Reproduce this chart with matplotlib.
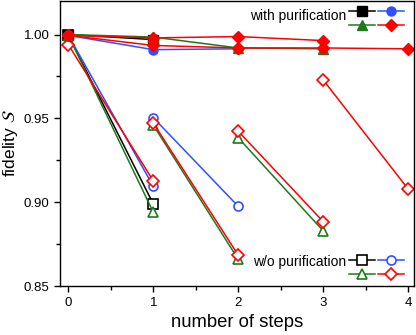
import matplotlib
matplotlib.use("Agg")
import matplotlib.pyplot as plt

plt.rcParams['font.family'] = ['Liberation Sans', 'DejaVu Sans']

# with purification (filled markers)
pur_black_x = [0, 1]
pur_black_y = [1.000, 0.997]
pur_blue_x = [0, 1, 2]
pur_blue_y = [0.9995, 0.991, 0.9915]
pur_green_x = [0, 1, 2, 3]
pur_green_y = [1.000, 0.9985, 0.992, 0.9915]
pur_red_a_x = [0, 1, 2, 3, 4]
pur_red_a_y = [0.9995, 0.9935, 0.992, 0.992, 0.9915]
pur_red_b_x = [0, 1, 2, 3]
pur_red_b_y = [0.9995, 0.998, 0.9988, 0.9964]

# w/o purification (open markers), one segment per starting step
raw_black = [([0, 1], [0.9995, 0.899])]
raw_blue = [([0, 1], [0.9995, 0.9095]), ([1, 2], [0.9504, 0.8976])]
raw_green = [([0, 1], [0.9995, 0.894]), ([1, 2], [0.946, 0.866]),
             ([2, 3], [0.9385, 0.883])]
raw_red = [([0, 1], [0.9939, 0.9127]), ([1, 2], [0.9472, 0.8685]),
           ([2, 3], [0.9424, 0.8885]), ([3, 4], [0.973, 0.908])]

BLACK = 'black'
BLUE = '#3050ff'
GREEN = '#1c7a1c'
RED = '#ff0000'

fig, ax = plt.subplots(figsize=(4.16, 3.35), dpi=100)
fig.subplots_adjust(left=0.144, right=0.995, top=0.998, bottom=0.146)

lw = 1.1
ms = 6.5

def open_series(segs, color, marker):
    h = None
    for xs, ys in segs:
        h, = ax.plot(xs, ys, color=color, lw=lw, marker=marker, ms=ms,
                     mfc='white', mec=color, mew=1.2)
    return h

hb_o = open_series(raw_black, BLACK, 's')
hbl_o = open_series(raw_blue, BLUE, 'o')
hg_o = open_series(raw_green, GREEN, '^')
hr_o = open_series(raw_red, RED, 'D')

hb, = ax.plot(pur_black_x, pur_black_y, color=BLACK, lw=lw, marker='s', ms=ms)
hbl, = ax.plot(pur_blue_x, pur_blue_y, color=BLUE, lw=lw, marker='o', ms=ms)
hg, = ax.plot(pur_green_x, pur_green_y, color=GREEN, lw=lw, marker='^', ms=ms + 0.5)
hr, = ax.plot(pur_red_b_x, pur_red_b_y, color=RED, lw=lw, marker='D', ms=ms)
ax.plot(pur_red_a_x, pur_red_a_y, color=RED, lw=lw, marker='D', ms=ms)

ax.set_xlim(-0.1, 4.07)
ax.set_ylim(0.85, 1.0202)
ax.set_xticks([0, 1, 2, 3, 4])
ax.set_xticks([0.5, 1.5, 2.5, 3.5], minor=True)
ax.set_yticks([0.85, 0.90, 0.95, 1.00])
ax.set_yticks([0.875, 0.925, 0.975], minor=True)
ax.yaxis.set_major_formatter(matplotlib.ticker.FormatStrFormatter('%.2f'))
ax.tick_params(which='both', direction='out', width=1.0, labelsize=9.5)
ax.tick_params(which='major', length=4)
ax.tick_params(which='minor', length=3)
for s in ax.spines.values():
    s.set_linewidth(1.0)

ax.set_xlabel('number of steps', fontsize=13.3, labelpad=4)
ax.set_ylabel(r'fidelity $\mathcal{S}$', fontsize=12.5)
ax.yaxis.set_label_coords(-0.112, 0.5)

leg_kw = dict(ncol=2, frameon=False, handlelength=2.4, handletextpad=0.0,
              columnspacing=0.2, labelspacing=0.35, borderaxespad=0.15,
              fontsize=8)
leg1 = ax.legend([hb, hg, hbl, hr], ['', '', '', ''], loc='upper right',
                 bbox_to_anchor=(0.99, 1.0), **leg_kw)
ax.add_artist(leg1)
ax.legend([hb_o, hg_o, hbl_o, hr_o], ['', '', '', ''], loc='lower right',
          bbox_to_anchor=(0.99, 0.0), **leg_kw)
ax.text(0.808, 0.945, 'with purification', transform=ax.transAxes,
        ha='right', va='center', fontsize=10)
ax.text(0.808, 0.085, 'w/o purification', transform=ax.transAxes,
        ha='right', va='center', fontsize=10)

fig.savefig('out.png', dpi=100)
